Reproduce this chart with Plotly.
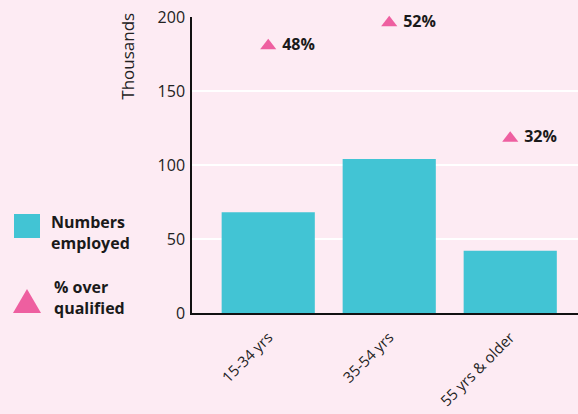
import plotly.graph_objects as go

categories = ["15-34 yrs", "35-54 yrs", "55 yrs & older"]
employed_thousands = [68, 104, 42]
pct_over_qualified = [48, 52, 32]
y_ticks = [0, 50, 100, 150, 200]

BG = "#fdebf3"
BAR = "#42c4d4"
TRI = "#ee5fa0"
FONT = "Open Sans"

fig = go.Figure()
fig.add_trace(go.Bar(x=categories, y=employed_thousands, marker_color=BAR,
                     marker_line_width=0, showlegend=False))
fig.add_trace(go.Scatter(x=categories, y=pct_over_qualified, yaxis="y2",
                         mode="markers+text",
                         text=[f"<b> {p}%</b>" for p in pct_over_qualified],
                         textposition="middle right",
                         textfont=dict(family=FONT, size=16, color="#1a1a1a"),
                         marker=dict(symbol="triangle-up", size=14, color=TRI),
                         showlegend=False, cliponaxis=False))

fig.update_layout(
    width=578, height=414,
    margin=dict(l=192, r=0, t=17, b=101),
    paper_bgcolor=BG, plot_bgcolor=BG,
    bargap=0.23,
    font=dict(family=FONT, size=15, color="#222"),
    xaxis=dict(range=[-0.63, 2.56], tickangle=-45, showline=True,
               linecolor="#111", linewidth=1.5, showgrid=False,
               ticklabelstandoff=8,
               tickfont=dict(family=FONT, size=15, color="#222")),
    yaxis=dict(range=[0, 200], tickvals=y_ticks, showline=True,
               linecolor="#111", linewidth=1.5, gridcolor="white",
               gridwidth=2, zeroline=False, ticklabelstandoff=2,
               tickfont=dict(family=FONT, size=16, color="#222")),
    yaxis2=dict(range=[1.7, 53], overlaying="y", side="right",
                visible=False),
)

fig.add_annotation(text="Thousands", xref="paper", yref="paper",
                   x=-0.168, y=1.02, xanchor="center", yanchor="top",
                   textangle=-90, showarrow=False,
                   font=dict(family=FONT, size=17, color="#222"))

# custom legend
fig.add_shape(type="rect", xref="paper", yref="paper",
              x0=(14 - 192) / 386, x1=(40 - 192) / 386,
              y0=(313 - 238) / 296, y1=(313 - 214) / 296,
              fillcolor=BAR, line_width=0)
fig.add_annotation(text="<b>Numbers<br>employed</b>", xref="paper", yref="paper",
                   x=(49 - 192) / 386, y=(313 - 232) / 296,
                   xanchor="left", yanchor="middle", align="left",
                   showarrow=False,
                   font=dict(family=FONT, size=16, color="#1a1a1a"))
tx0, tx1, tx = (13 - 192) / 386, (41 - 192) / 386, (27 - 192) / 386
ty0, ty1 = (313 - 313) / 296, (313 - 289) / 296
fig.add_shape(type="path", xref="paper", yref="paper",
              path=f"M {tx0} {ty0} L {tx1} {ty0} L {tx} {ty1} Z",
              fillcolor=TRI, line_width=0)
fig.add_annotation(text="<b>% over<br>qualified</b>", xref="paper", yref="paper",
                   x=(52 - 192) / 386, y=(313 - 297) / 296,
                   xanchor="left", yanchor="middle", align="left",
                   showarrow=False,
                   font=dict(family=FONT, size=16, color="#1a1a1a"))

fig.write_html("out.html")
